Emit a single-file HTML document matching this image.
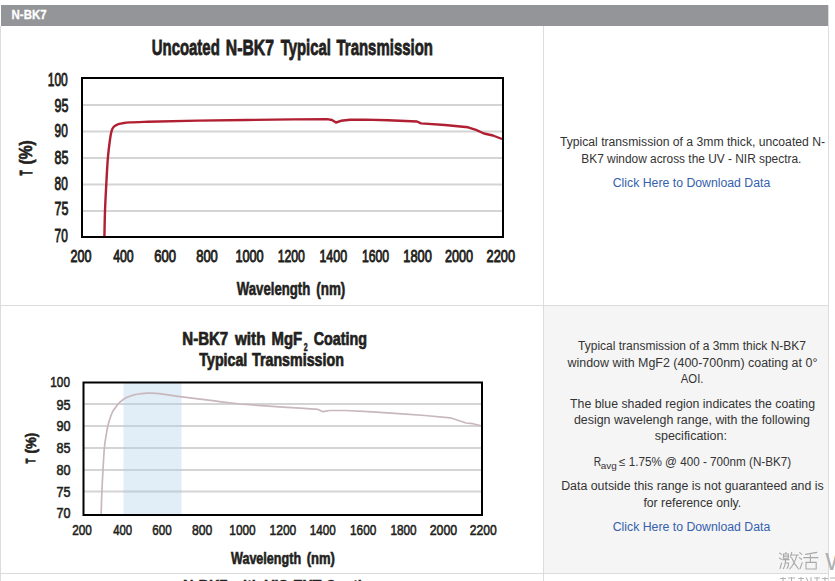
<!DOCTYPE html>
<html><head><meta charset="utf-8">
<style>
html,body{margin:0;padding:0;background:#fff;width:835px;height:581px;overflow:hidden;position:relative;font-family:"Liberation Sans",sans-serif;}
.abs{position:absolute;}
#hdr{left:1px;top:5px;width:827px;height:21px;background:#939598;}
#hdrt{left:12px;top:8px;color:#fff;font-weight:bold;font-size:12px;letter-spacing:-0.4px;line-height:14px;}
.vl{position:absolute;width:1px;background:#dcdcdc;}
.hl{position:absolute;height:1px;background:#dcdcdc;}
#cell2{left:544px;top:306px;width:284px;height:267px;background:#f5f5f5;}
svg{position:absolute;left:0;top:0;}
</style></head><body>
<div class="abs" id="hdr"></div>
<div class="vl" style="left:0;top:26px;height:555px"></div>
<div class="vl" style="left:828px;top:5px;height:576px"></div>
<div class="vl" style="left:543px;top:26px;height:555px"></div>
<div class="abs" id="cell2"></div>
<div class="hl" style="left:0;top:305px;width:829px"></div>
<div class="hl" style="left:0;top:573px;width:829px"></div>

<svg width="835" height="581" viewBox="0 0 835 581" font-family="Liberation Sans">
  <!-- Chart 1 -->
  <g stroke="#d4d4d4" stroke-width="2">
   <line x1="83" y1="105" x2="502" y2="105"/>
   <line x1="83" y1="131.5" x2="502" y2="131.5"/>
   <line x1="83" y1="158" x2="502" y2="158"/>
   <line x1="83" y1="184.5" x2="502" y2="184.5"/>
   <line x1="83" y1="211" x2="502" y2="211"/>
  </g>
  <path fill="none" stroke="#b01f32" stroke-width="2.4" stroke-linejoin="round" d="M104.40,237.00 C104.50,232.67 104.68,219.83 105.00,211.00 C105.32,202.17 105.82,192.90 106.30,184.00 C106.78,175.10 107.28,165.02 107.90,157.60 C108.52,150.18 109.37,144.00 110.00,139.50 C110.63,135.00 111.07,132.72 111.70,130.60 C112.33,128.48 112.88,127.78 113.80,126.80 C114.72,125.82 115.83,125.27 117.20,124.70 C118.57,124.13 119.87,123.78 122.00,123.40 C124.13,123.02 125.67,122.68 130.00,122.40 C134.33,122.12 145.00,121.82 148.00,121.70 L198.00,120.60 L246.00,120.00 L294.00,119.40 L327.00,119.10 L332.00,120.00 L336.00,122.50 L341.00,120.80 L350.00,119.80 L365.00,119.60 L388.00,120.20 L417.00,121.50 L421.00,123.40 L445.00,125.00 L468.00,127.30 L476.00,129.80 L484.00,133.50 L493.00,135.50 L502.00,139.00"/>
  <rect x="82" y="78" width="421" height="159" fill="none" stroke="#000" stroke-width="2"/>

  <!-- Chart 2 -->
  <rect x="123.5" y="383" width="58" height="131" fill="#e1edf7" stroke="none"/>
  <g stroke="#d4d4d4" stroke-width="2">
   <line x1="84" y1="404" x2="482" y2="404"/>
   <line x1="84" y1="426" x2="482" y2="426"/>
   <line x1="84" y1="448" x2="482" y2="448"/>
   <line x1="84" y1="470" x2="482" y2="470"/>
   <line x1="84" y1="491.5" x2="482" y2="491.5"/>
  </g>
  <g stroke="#c6d3dd" stroke-width="2">
   <line x1="123.5" y1="404" x2="181.5" y2="404"/>
   <line x1="123.5" y1="426" x2="181.5" y2="426"/>
   <line x1="123.5" y1="448" x2="181.5" y2="448"/>
   <line x1="123.5" y1="470" x2="181.5" y2="470"/>
   <line x1="123.5" y1="491.5" x2="181.5" y2="491.5"/>
  </g>
  <path fill="none" stroke="#c9b7be" stroke-width="1.7" stroke-linejoin="round" d="M101.10,515.00 C101.23,511.00 101.58,498.50 101.90,491.00 C102.22,483.50 102.58,477.25 103.00,470.00 C103.42,462.75 103.87,453.33 104.40,447.50 C104.93,441.67 105.62,438.62 106.20,435.00 C106.78,431.38 107.33,428.40 107.90,425.80 C108.47,423.20 108.83,421.70 109.60,419.40 C110.37,417.10 111.57,413.90 112.50,412.00 C113.43,410.10 114.23,409.37 115.20,408.00 C116.17,406.63 117.17,405.05 118.30,403.80 C119.43,402.55 120.55,401.58 122.00,400.50 C123.45,399.42 125.25,398.15 127.00,397.30 C128.75,396.45 130.58,395.95 132.50,395.40 C134.42,394.85 136.42,394.35 138.50,394.00 C140.58,393.65 142.75,393.43 145.00,393.30 C147.25,393.17 148.40,392.98 152.00,393.20 C155.60,393.42 161.60,393.98 166.60,394.60 C171.60,395.22 174.33,395.88 182.00,396.90 C189.67,397.92 202.93,399.52 212.60,400.70 C222.27,401.88 235.43,403.45 240.00,404.00 L283.00,407.20 L300.00,408.20 L318.20,409.40 L322.80,411.70 L329.60,410.50 L345.50,410.50 L368.30,411.70 L402.40,413.90 L425.10,415.50 L450.20,417.80 L459.30,420.80 L466.10,423.00 L472.90,423.70 L481.00,425.80"/>
  <rect x="83.5" y="382.5" width="398.5" height="132.5" fill="none" stroke="#000" stroke-width="2"/>
<text x="11.56" y="19.40" font-size="12.8" font-weight="bold" fill="#ffffff" stroke="#ffffff" stroke-width="0.3" textLength="34.99" lengthAdjust="spacingAndGlyphs">N-BK7</text>
<text x="151.73" y="54.80" font-size="22.3" font-weight="bold" fill="#231f20" stroke="#231f20" stroke-width="0.8" textLength="68.04" lengthAdjust="spacingAndGlyphs">Uncoated</text>
<text x="225.79" y="54.80" font-size="22.3" font-weight="bold" fill="#231f20" stroke="#231f20" stroke-width="0.8" textLength="48.21" lengthAdjust="spacingAndGlyphs">N-BK7</text>
<text x="280.70" y="54.80" font-size="22.3" font-weight="bold" fill="#231f20" stroke="#231f20" stroke-width="0.8" textLength="50.19" lengthAdjust="spacingAndGlyphs">Typical</text>
<text x="336.50" y="54.80" font-size="22.3" font-weight="bold" fill="#231f20" stroke="#231f20" stroke-width="0.8" textLength="96.47" lengthAdjust="spacingAndGlyphs">Transmission</text>
<text x="47.78" y="85.50" font-size="18.0" font-weight="normal" fill="#231f20" stroke="#231f20" stroke-width="0.9" textLength="20.00" lengthAdjust="spacingAndGlyphs">100</text>
<text x="54.56" y="112.20" font-size="18.0" font-weight="normal" fill="#231f20" stroke="#231f20" stroke-width="0.9" textLength="13.91" lengthAdjust="spacingAndGlyphs">95</text>
<text x="54.59" y="137.20" font-size="18.0" font-weight="normal" fill="#231f20" stroke="#231f20" stroke-width="0.9" textLength="13.18" lengthAdjust="spacingAndGlyphs">90</text>
<text x="54.56" y="163.50" font-size="18.0" font-weight="normal" fill="#231f20" stroke="#231f20" stroke-width="0.9" textLength="13.91" lengthAdjust="spacingAndGlyphs">85</text>
<text x="54.59" y="189.80" font-size="18.0" font-weight="normal" fill="#231f20" stroke="#231f20" stroke-width="0.9" textLength="13.18" lengthAdjust="spacingAndGlyphs">80</text>
<text x="54.56" y="215.20" font-size="18.0" font-weight="normal" fill="#231f20" stroke="#231f20" stroke-width="0.9" textLength="13.91" lengthAdjust="spacingAndGlyphs">75</text>
<text x="54.59" y="241.50" font-size="18.0" font-weight="normal" fill="#231f20" stroke="#231f20" stroke-width="0.9" textLength="13.18" lengthAdjust="spacingAndGlyphs">70</text>
<text x="70.51" y="261.50" font-size="17.0" font-weight="normal" fill="#231f20" stroke="#231f20" stroke-width="0.9" textLength="20.91" lengthAdjust="spacingAndGlyphs">200</text>
<text x="113.15" y="261.50" font-size="17.0" font-weight="normal" fill="#231f20" stroke="#231f20" stroke-width="0.9" textLength="20.47" lengthAdjust="spacingAndGlyphs">400</text>
<text x="154.28" y="261.50" font-size="17.0" font-weight="normal" fill="#231f20" stroke="#231f20" stroke-width="0.9" textLength="21.75" lengthAdjust="spacingAndGlyphs">600</text>
<text x="196.19" y="261.50" font-size="17.0" font-weight="normal" fill="#231f20" stroke="#231f20" stroke-width="0.9" textLength="21.65" lengthAdjust="spacingAndGlyphs">800</text>
<text x="235.40" y="261.50" font-size="17.0" font-weight="normal" fill="#231f20" stroke="#231f20" stroke-width="0.9" textLength="28.27" lengthAdjust="spacingAndGlyphs">1000</text>
<text x="277.63" y="261.50" font-size="17.0" font-weight="normal" fill="#231f20" stroke="#231f20" stroke-width="0.9" textLength="27.22" lengthAdjust="spacingAndGlyphs">1200</text>
<text x="319.42" y="261.50" font-size="17.0" font-weight="normal" fill="#231f20" stroke="#231f20" stroke-width="0.9" textLength="27.64" lengthAdjust="spacingAndGlyphs">1400</text>
<text x="361.93" y="261.50" font-size="17.0" font-weight="normal" fill="#231f20" stroke="#231f20" stroke-width="0.9" textLength="27.22" lengthAdjust="spacingAndGlyphs">1600</text>
<text x="403.30" y="261.50" font-size="17.0" font-weight="normal" fill="#231f20" stroke="#231f20" stroke-width="0.9" textLength="28.48" lengthAdjust="spacingAndGlyphs">1800</text>
<text x="444.91" y="261.50" font-size="17.0" font-weight="normal" fill="#231f20" stroke="#231f20" stroke-width="0.9" textLength="28.16" lengthAdjust="spacingAndGlyphs">2000</text>
<text x="486.60" y="261.50" font-size="17.0" font-weight="normal" fill="#231f20" stroke="#231f20" stroke-width="0.9" textLength="28.48" lengthAdjust="spacingAndGlyphs">2200</text>
<text x="236.80" y="294.90" font-size="17.6" font-weight="bold" fill="#231f20" stroke="#231f20" stroke-width="0.6" textLength="73.52" lengthAdjust="spacingAndGlyphs">Wavelength</text>
<text x="316.24" y="294.90" font-size="17.6" font-weight="bold" fill="#231f20" stroke="#231f20" stroke-width="0.6" textLength="29.11" lengthAdjust="spacingAndGlyphs">(nm)</text>
<text transform="translate(31.70,175.30) rotate(-90)" x="0" y="0" font-size="16.0" font-weight="bold" fill="#231f20" stroke="#231f20" stroke-width="1.0" textLength="4.79" lengthAdjust="spacingAndGlyphs">T</text>
<text transform="translate(32.30,164.48) rotate(-90)" x="0" y="0" font-size="17.6" font-weight="bold" fill="#231f20" stroke="#231f20" stroke-width="0.6" textLength="24.11" lengthAdjust="spacingAndGlyphs">(%)</text>
<text x="182.30" y="344.80" font-size="17.8" font-weight="bold" fill="#231f20" stroke="#231f20" stroke-width="0.7" textLength="45.94" lengthAdjust="spacingAndGlyphs">N-BK7</text>
<text x="234.95" y="344.80" font-size="17.8" font-weight="bold" fill="#231f20" stroke="#231f20" stroke-width="0.7" textLength="30.58" lengthAdjust="spacingAndGlyphs">with</text>
<text x="271.61" y="344.80" font-size="17.8" font-weight="bold" fill="#231f20" stroke="#231f20" stroke-width="0.7" textLength="30.59" lengthAdjust="spacingAndGlyphs">MgF</text>
<text x="313.75" y="344.80" font-size="17.8" font-weight="bold" fill="#231f20" stroke="#231f20" stroke-width="0.7" textLength="53.26" lengthAdjust="spacingAndGlyphs">Coating</text>
<text x="303.65" y="351.40" font-size="10.6" font-weight="bold" fill="#231f20" stroke="#231f20" stroke-width="0.5" textLength="3.94" lengthAdjust="spacingAndGlyphs">2</text>
<text x="199.35" y="365.70" font-size="17.8" font-weight="bold" fill="#231f20" stroke="#231f20" stroke-width="0.7" textLength="47.96" lengthAdjust="spacingAndGlyphs">Typical</text>
<text x="252.05" y="365.70" font-size="17.8" font-weight="bold" fill="#231f20" stroke="#231f20" stroke-width="0.7" textLength="91.81" lengthAdjust="spacingAndGlyphs">Transmission</text>
<text x="50.32" y="387.10" font-size="15.0" font-weight="normal" fill="#231f20" stroke="#231f20" stroke-width="0.6" textLength="19.61" lengthAdjust="spacingAndGlyphs">100</text>
<text x="56.46" y="409.50" font-size="15.0" font-weight="normal" fill="#231f20" stroke="#231f20" stroke-width="0.6" textLength="14.02" lengthAdjust="spacingAndGlyphs">95</text>
<text x="56.46" y="431.10" font-size="15.0" font-weight="normal" fill="#231f20" stroke="#231f20" stroke-width="0.6" textLength="14.02" lengthAdjust="spacingAndGlyphs">90</text>
<text x="56.46" y="452.60" font-size="15.0" font-weight="normal" fill="#231f20" stroke="#231f20" stroke-width="0.6" textLength="14.02" lengthAdjust="spacingAndGlyphs">85</text>
<text x="56.46" y="474.80" font-size="15.0" font-weight="normal" fill="#231f20" stroke="#231f20" stroke-width="0.6" textLength="14.02" lengthAdjust="spacingAndGlyphs">80</text>
<text x="56.46" y="496.70" font-size="15.0" font-weight="normal" fill="#231f20" stroke="#231f20" stroke-width="0.6" textLength="14.02" lengthAdjust="spacingAndGlyphs">75</text>
<text x="56.46" y="518.30" font-size="15.0" font-weight="normal" fill="#231f20" stroke="#231f20" stroke-width="0.6" textLength="14.02" lengthAdjust="spacingAndGlyphs">70</text>
<text x="72.21" y="535.20" font-size="15.0" font-weight="normal" fill="#231f20" stroke="#231f20" stroke-width="0.6" textLength="19.71" lengthAdjust="spacingAndGlyphs">200</text>
<text x="113.20" y="535.20" font-size="15.0" font-weight="normal" fill="#231f20" stroke="#231f20" stroke-width="0.6" textLength="18.92" lengthAdjust="spacingAndGlyphs">400</text>
<text x="152.22" y="535.20" font-size="15.0" font-weight="normal" fill="#231f20" stroke="#231f20" stroke-width="0.6" textLength="19.40" lengthAdjust="spacingAndGlyphs">600</text>
<text x="191.89" y="535.20" font-size="15.0" font-weight="normal" fill="#231f20" stroke="#231f20" stroke-width="0.6" textLength="20.34" lengthAdjust="spacingAndGlyphs">800</text>
<text x="229.31" y="535.20" font-size="15.0" font-weight="normal" fill="#231f20" stroke="#231f20" stroke-width="0.6" textLength="26.39" lengthAdjust="spacingAndGlyphs">1000</text>
<text x="269.50" y="535.20" font-size="15.0" font-weight="normal" fill="#231f20" stroke="#231f20" stroke-width="0.6" textLength="26.80" lengthAdjust="spacingAndGlyphs">1200</text>
<text x="309.72" y="535.20" font-size="15.0" font-weight="normal" fill="#231f20" stroke="#231f20" stroke-width="0.6" textLength="25.97" lengthAdjust="spacingAndGlyphs">1400</text>
<text x="350.01" y="535.20" font-size="15.0" font-weight="normal" fill="#231f20" stroke="#231f20" stroke-width="0.6" textLength="26.28" lengthAdjust="spacingAndGlyphs">1600</text>
<text x="390.42" y="535.20" font-size="15.0" font-weight="normal" fill="#231f20" stroke="#231f20" stroke-width="0.6" textLength="26.18" lengthAdjust="spacingAndGlyphs">1800</text>
<text x="429.68" y="535.20" font-size="15.0" font-weight="normal" fill="#231f20" stroke="#231f20" stroke-width="0.6" textLength="27.43" lengthAdjust="spacingAndGlyphs">2000</text>
<text x="469.79" y="535.20" font-size="15.0" font-weight="normal" fill="#231f20" stroke="#231f20" stroke-width="0.6" textLength="27.01" lengthAdjust="spacingAndGlyphs">2200</text>
<text x="231.00" y="563.60" font-size="15.6" font-weight="bold" fill="#231f20" stroke="#231f20" stroke-width="0.6" textLength="70.06" lengthAdjust="spacingAndGlyphs">Wavelength</text>
<text x="306.67" y="563.60" font-size="15.6" font-weight="bold" fill="#231f20" stroke="#231f20" stroke-width="0.6" textLength="28.19" lengthAdjust="spacingAndGlyphs">(nm)</text>
<text transform="translate(35.00,463.20) rotate(-90)" x="0" y="0" font-size="12.8" font-weight="bold" fill="#231f20" stroke="#231f20" stroke-width="1.0" textLength="4.50" lengthAdjust="spacingAndGlyphs">T</text>
<text transform="translate(35.50,453.51) rotate(-90)" x="0" y="0" font-size="14.5" font-weight="bold" fill="#231f20" stroke="#231f20" stroke-width="0.6" textLength="20.63" lengthAdjust="spacingAndGlyphs">(%)</text>
<text x="183.03" y="593.00" font-size="17.8" font-weight="bold" fill="#231f20" stroke="#231f20" stroke-width="0.5" textLength="196.58" lengthAdjust="spacingAndGlyphs">N-BK7 with VIS-EXT Coating</text>
<text x="559.90" y="145.80" font-size="12.0" font-weight="normal" fill="#333333" textLength="265.14" lengthAdjust="spacingAndGlyphs">Typical transmission of a 3mm thick, uncoated N-</text>
<text x="581.31" y="162.70" font-size="12.0" font-weight="normal" fill="#333333" textLength="220.07" lengthAdjust="spacingAndGlyphs">BK7 window across the UV - NIR spectra.</text>
<text x="612.78" y="186.60" font-size="12.0" font-weight="normal" fill="#3560ad" textLength="157.50" lengthAdjust="spacingAndGlyphs">Click Here to Download Data</text>
<text x="578.10" y="350.10" font-size="12.0" font-weight="normal" fill="#333333" textLength="227.88" lengthAdjust="spacingAndGlyphs">Typical transmission of a 3mm thick N-BK7</text>
<text x="567.50" y="366.90" font-size="12.0" font-weight="normal" fill="#333333" textLength="249.86" lengthAdjust="spacingAndGlyphs">window with MgF2 (400-700nm) coating at 0°</text>
<text x="680.80" y="382.90" font-size="12.0" font-weight="normal" fill="#333333" textLength="22.66" lengthAdjust="spacingAndGlyphs">AOI.</text>
<text x="570.10" y="407.70" font-size="12.0" font-weight="normal" fill="#333333" textLength="244.97" lengthAdjust="spacingAndGlyphs">The blue shaded region indicates the coating</text>
<text x="573.90" y="423.50" font-size="12.0" font-weight="normal" fill="#333333" textLength="236.06" lengthAdjust="spacingAndGlyphs">design wavelengh range, with the following</text>
<text x="654.70" y="440.20" font-size="12.0" font-weight="normal" fill="#333333" textLength="72.33" lengthAdjust="spacingAndGlyphs">specification:</text>
<text x="561.17" y="489.90" font-size="12.0" font-weight="normal" fill="#333333" textLength="262.50" lengthAdjust="spacingAndGlyphs">Data outside this range is not guaranteed and is</text>
<text x="643.40" y="507.10" font-size="12.0" font-weight="normal" fill="#333333" textLength="97.85" lengthAdjust="spacingAndGlyphs">for reference only.</text>
<text x="612.78" y="530.80" font-size="12.0" font-weight="normal" fill="#3560ad" textLength="157.50" lengthAdjust="spacingAndGlyphs">Click Here to Download Data</text>
<text x="593.64" y="466.20" font-size="12.0" font-weight="normal" fill="#333333" textLength="7.43" lengthAdjust="spacingAndGlyphs">R</text>
<text x="600.70" y="468.50" font-size="9.0" font-weight="normal" fill="#333333" textLength="15.97" lengthAdjust="spacingAndGlyphs">avg</text>
<text x="619.00" y="466.20" font-size="12.0" font-weight="normal" fill="#333333" textLength="172.22" lengthAdjust="spacingAndGlyphs">≤ 1.75% @ 400 - 700nm (N-BK7)</text>

  <!-- watermark -->
  <g fill="none" stroke="#a9a9a9" stroke-width="1.1" stroke-linecap="round">
   <!-- 激 -->
   <path d="M779.6,553 L781.4,554.4 M779.4,558 L781.3,559.3 M781.6,563 L780,568.6"/>
   <path d="M786,552.6 L785.4,553.8 M783.4,554 H788.4 V558.2 H783.4 Z M783.4,556.1 H788.4"/>
   <path d="M782.6,559.6 H789 M785.6,559.6 L785.2,563 Q784.8,566.5 783.4,568.6 M785.4,563 H788.6 Q788.6,567 787,568.4"/>
   <path d="M791.8,552.2 L790.4,557.2 M790.8,555 H798.4 M796.8,555.4 Q795,563 789.8,569 M791.6,557.8 Q794,564 798.6,569"/>
   <!-- 活 -->
   <path d="M799.7,552.6 L801.8,554.4 M799.3,557.6 L801.6,559.3 M802.2,562.6 L800,568.8"/>
   <path d="M816.8,552.4 L805.6,554.4 M803.6,557.6 H818 M810.4,553.6 V562.2"/>
   <path d="M806,562.4 H816.2 V569 H806 Z"/>
  </g>
  <text x="825.2" y="569.6" font-family="Liberation Sans" font-size="23" fill="#b0b0b0" textLength="23" lengthAdjust="spacingAndGlyphs">W</text>
  <g fill="none" stroke="#b4b4b4" stroke-width="1.1">
   <path d="M780,578.5 H786 M783,577 V581 M788,578 H795 M791.5,577 V581 M798,578.5 H804 M801,577 V581 M806,577.5 L808,581 M811,577 V581 M814,578 H820 M817,577 V581 M822,578.5 H828 M825,577 V581 M830,578 H835"/>
  </g>
</svg>
</body></html>
